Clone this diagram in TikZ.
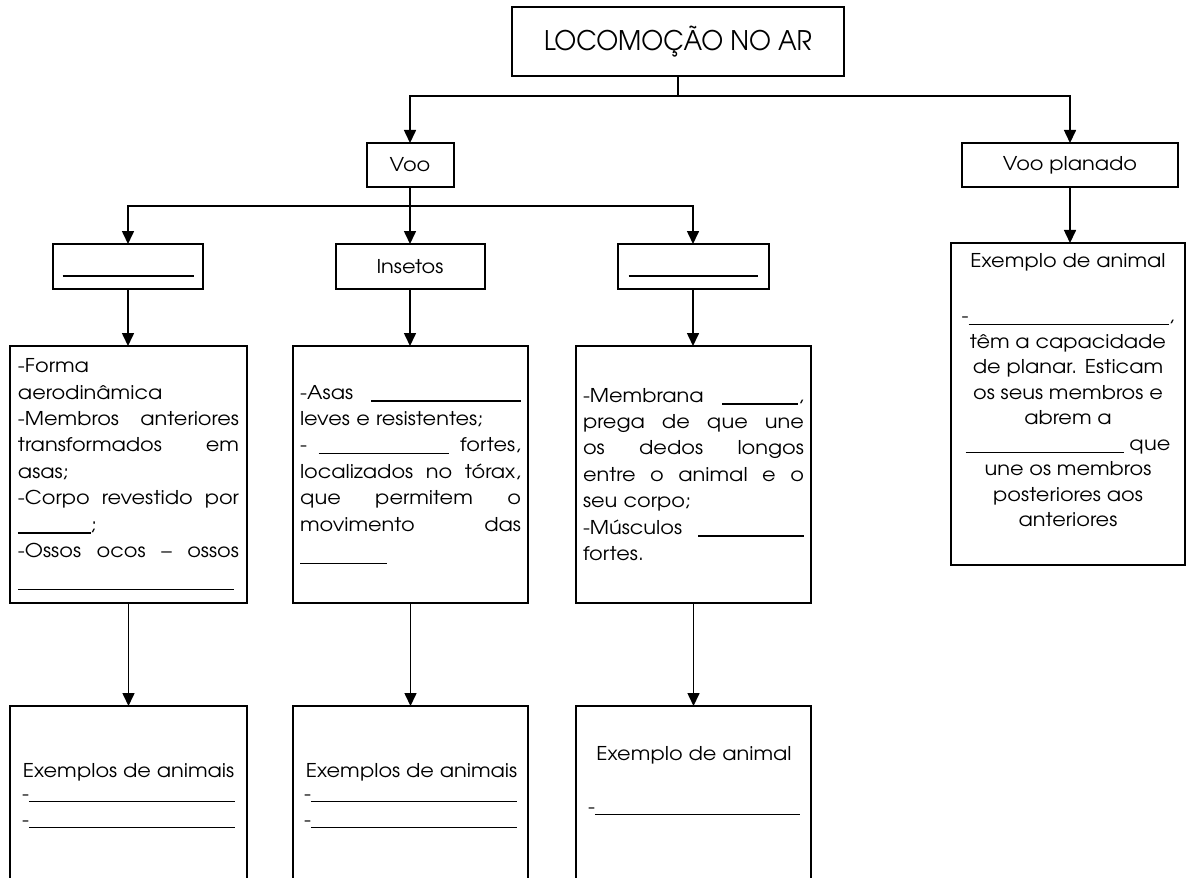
\documentclass[tikz,border=0pt]{standalone}
\usepackage{fontspec}
\setmainfont{texgyreadventor-regular.otf}[FakeStretch=1.1]
\usetikzlibrary{arrows.meta}
\newcommand{\blank}[1]{\rule[-1.2pt]{#1}{0.6pt}}
\newcommand{\jl}[1]{{\spaceskip=0.3333em plus 1fil minus 0.15em\relax\xspaceskip=\spaceskip\makebox[110.5pt][s]{#1}}}
\begin{document}
\begin{tikzpicture}[x=0.5pt,y=-0.5pt,
  box/.style={draw=black, line width=1pt, rectangle, inner sep=0pt, outer sep=0pt},
  conn/.style={draw=black, line width=0.8pt},
  arr/.style={conn, -{Triangle[length=6.5pt,width=6pt]}},
  body/.style={font=\fontsize{9.5pt}{13.2pt}\selectfont},
  rbody/.style={font=\fontsize{9.5pt}{12.75pt}\selectfont},
  bl/.style={draw=black, line width=0.7pt},
  txt/.style={inner sep=0pt, outer sep=0pt, font=\fontsize{9.5pt}{13pt}\selectfont}
]
\useasboundingbox (0,0) rectangle (1187,877);
\clip (0,0) rectangle (1187,877);
\fill[white] (0,0) rectangle (1187,877);

% level 0
\node[box, minimum width=166pt, minimum height=34.5pt] (top) at (678,41.5)
  {\fontsize{13.5pt}{14pt}\selectfont\resizebox{134pt}{\height}{LOCOMOÇÃO NO AR}};

% level 1
\node[box, body, minimum width=43.5pt, minimum height=22pt] (voo) at (410,165) {Voo};
\node[box, body, minimum width=108pt, minimum height=22pt] (vp) at (1070,165) {Voo planado};

% level 2
\node[box, minimum width=75pt, minimum height=22.5pt] (b1) at (128,266.5) {};
\node[box, body, minimum width=74.5pt, minimum height=22.5pt] (ins) at (410,266.5) {Insetos};
\node[box, minimum width=75.5pt, minimum height=22.5pt] (b2) at (693,266.5) {};
\draw[bl] ([shift={(-65.5,9.5)}]b1.center) -- ++(131,0);
\draw[bl] ([shift={(-64.5,9.5)}]b2.center) -- ++(129,0);

% right column
\node[box, minimum width=117pt, minimum height=161pt] (ex) at (1068,404) {};
\node[rbody, inner sep=0pt, align=center, anchor=north] (extxt) at (1068,253)
  {Exemplo de animal\\[15pt]
   -\blank{100pt},\\
   têm a capacidade\\
   de planar. Esticam\\
   os seus membros e\\
   abrem a\\
   \blank{79pt} que\\
   une os membros\\
   posteriores aos\\
   anteriores};

% level 3
\node[box, body, minimum width=118.5pt, minimum height=128.5pt, text width=110.5pt, align=left] (r3a) at (128.5,474.5)
  {-Forma\\
   aerodinâmica\\
   \jl{-Membros anteriores}\\
   \jl{transformados em}\\
   asas;\\
   \jl{-Corpo revestido por}\\
   \blank{36.5pt};\\
   \jl{-Ossos ocos – ossos}\\[2pt]
   \blank{108pt}};
\node[box, body, minimum width=117.5pt, minimum height=128.5pt, text width=110.5pt, align=left] (r3b) at (410.5,474.5)
  {\jl{-Asas \blank{75pt}}\\
   leves e resistentes;\\
   \jl{- \blank{65pt} fortes,}\\
   \jl{localizados no tórax,}\\
   \jl{que permitem o}\\
   \jl{movimento das}\\[2pt]
   \blank{43.5pt}};
\node[box, body, minimum width=117.5pt, minimum height=128.5pt, text width=110.5pt, align=left] (r3c) at (693.5,474.5)
  {\jl{-Membrana \blank{38pt},}\\
   \jl{prega de que une}\\
   \jl{os dedos longos}\\
   \jl{entre o animal e o}\\
   seu corpo;\\
   \jl{-Músculos \blank{53pt}}\\
   fortes.};

% level 4
\node[box, minimum width=118.5pt, minimum height=97pt] (r4a) at (128.5,803) {};
\node[box, minimum width=117.5pt, minimum height=97pt] (r4b) at (410.5,803) {};
\node[box, minimum width=117.5pt, minimum height=97pt] (r4c) at (693.5,803) {};
\node[txt] (t4a) at (128.5,772) {Exemplos de animais};
\node[txt, anchor=base west] (t4a1) at (22,800) {-\blank{103pt}};
\node[txt, anchor=base west] (t4a2) at (22,826) {-\blank{103pt}};
\node[txt] (t4b) at (411.5,772) {Exemplos de animais};
\node[txt, anchor=base west] (t4b1) at (304,800) {-\blank{103pt}};
\node[txt, anchor=base west] (t4b2) at (304,826) {-\blank{103pt}};
\node[txt] (t4c) at (694,755) {Exemplo de animal};
\node[txt, anchor=base west] (t4c1) at (588,813) {-\blank{102.5pt}};

% connectors
\coordinate (j1) at (678,96);
\coordinate (j2) at (410,206);
\draw[conn] (top.south) -- (j1);
\draw[arr] (j1) -| (voo.north);
\draw[arr] (j1) -| (vp.north);
\draw[arr] (voo.south) -- (ins.north);
\draw[arr] (j2) -| (b1.north);
\draw[arr] (j2) -| (b2.north);
\draw[arr] (vp.south) -- (vp.south |- ex.north);
\draw[arr] (b1.south) -- (b1.south |- r3a.north);
\draw[arr] (ins.south) -- (ins.south |- r3b.north);
\draw[arr] (b2.south) -- (b2.south |- r3c.north);
\draw[arr] (r3a.south) -- (r3a.south |- r4a.north);
\draw[arr] (r3b.south) -- (r3b.south |- r4b.north);
\draw[arr] (r3c.south) -- (r3c.south |- r4c.north);
\end{tikzpicture}
\end{document}
